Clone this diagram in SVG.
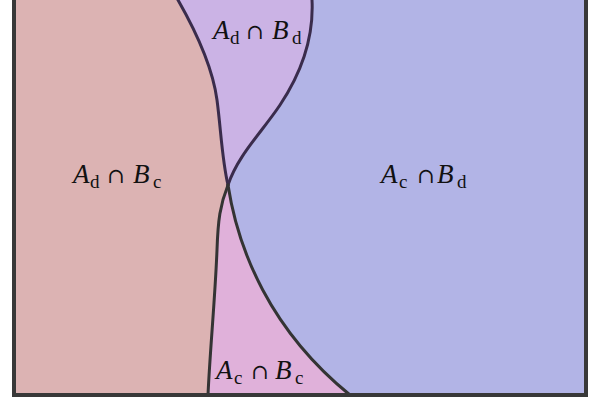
<svg xmlns="http://www.w3.org/2000/svg" width="600" height="400" viewBox="0 0 600 400">
<style>
.edge{fill:none;stroke-width:3;stroke-linecap:round;stroke-linejoin:round}
.up{stroke:#3a2c4c}
.lo{stroke:#343434}
</style>
<rect x="0" y="0" width="600" height="400" fill="#ffffff"/>
<g id="region-AcBd">
<rect x="14" y="-5" width="572" height="400" fill="#b2b4e6"/>
</g>
<g id="region-AdBc">
<path d="M14,-5 L176,-5 L178,0 C198,35 213,70 217,100 C221,130 222,160 228,185 C220,205 218,220 217,250 C215,300 210,350 208,395 L14,395 Z" fill="#dcb3b3"/>
</g>
<g id="region-AdBd">
<path d="M178,0 C198,35 213,70 217,100 C221,130 222,160 228,185 C238,155 262,132 280,105 C300,75 314,40 312,0 Z" fill="#cbb3e5"/>
</g>
<g id="region-AcBc">
<path d="M228,185 C220,205 218,220 217,250 C215,300 210,350 208,395 L350,395 C270,330 238,250 228,185 Z" fill="#e0b1da"/>
</g>
<g id="connectors">
<path class="edge up" d="M176,-4 L178,0 C198,35 213,70 217,100 C221,130 222,160 228,185"/>
<path class="edge up" d="M312,-4 L312,0 C314,40 300,75 280,105 C262,132 238,155 228,185"/>
<path class="edge lo" d="M228,185 C220,205 218,220 217,250 C215,300 210,350 208,395"/>
<path class="edge lo" d="M228,185 C238,250 270,330 350,395"/>
<path d="M14,-5 L14,395 L586,395 L586,-5" fill="none" stroke="#383838" stroke-width="4"/>
</g>
<g id="label-AdBd" font-family="Liberation Serif, serif" font-size="27" fill="#111">
<text x="213" y="39" font-style="italic">A</text><text x="230" y="44" font-size="19">d</text><text x="246" y="39" font-family="DejaVu Serif, serif" font-size="21">∩</text><text x="272" y="39" font-style="italic">B</text><text x="292" y="44" font-size="19">d</text>
</g>
<g id="label-AdBc" font-family="Liberation Serif, serif" font-size="27" fill="#111">
<text x="73" y="183" font-style="italic">A</text><text x="90" y="188" font-size="19">d</text><text x="107" y="183" font-family="DejaVu Serif, serif" font-size="21">∩</text><text x="133" y="183" font-style="italic">B</text><text x="153" y="188" font-size="19">c</text>
</g>
<g id="label-AcBd" font-family="Liberation Serif, serif" font-size="27" fill="#111">
<text x="381" y="183" font-style="italic">A</text><text x="399" y="188" font-size="19">c</text><text x="417" y="183" font-family="DejaVu Serif, serif" font-size="21">∩</text><text x="437" y="183" font-style="italic">B</text><text x="457" y="188" font-size="19">d</text>
</g>
<g id="label-AcBc" font-family="Liberation Serif, serif" font-size="27" fill="#111">
<text x="216" y="379" font-style="italic">A</text><text x="234" y="384" font-size="19">c</text><text x="251" y="379" font-family="DejaVu Serif, serif" font-size="21">∩</text><text x="275" y="379" font-style="italic">B</text><text x="295" y="384" font-size="19">c</text>
</g>
</svg>
